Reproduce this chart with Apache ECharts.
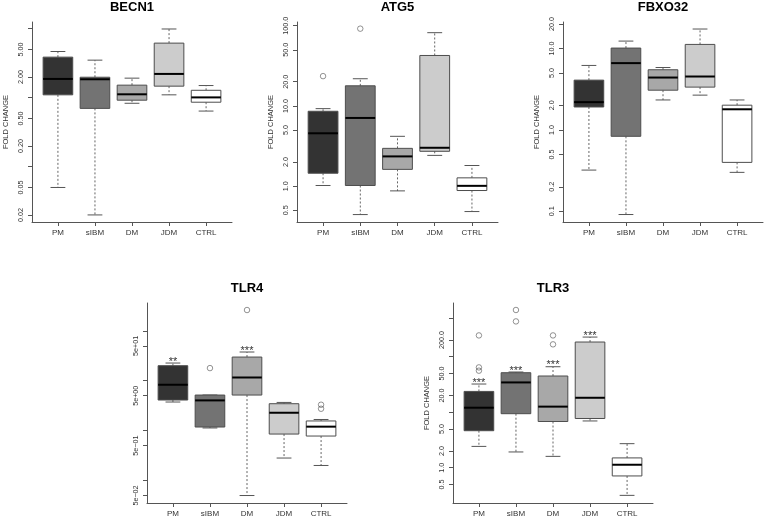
<!DOCTYPE html>
<html>
<head>
<meta charset="utf-8">
<script src="https://cdn.jsdelivr.net/npm/echarts@6/dist/echarts.min.js"></script>
<style>
html,body{margin:0;padding:0;background:#fff;}
#chart{width:765px;height:519px;}
</style>
</head>
<body>
<div id="chart"></div>
<script>
// ---------- DATA ----------
const categories = ['PM', 'sIBM', 'DM', 'JDM', 'CTRL'];
const genes = ['BECN1', 'ATG5', 'FBXO32', 'TLR4', 'TLR3'];

// [lower whisker, Q1, median, Q3, upper whisker] per category (fold change)
const becn1Stats = [
  [0.05, 1.10, 1.87, 3.87, 4.67],
  [0.02, 0.70, 1.85, 1.98, 3.50],
  [0.83, 0.92, 1.12, 1.52, 1.92],
  [1.10, 1.47, 2.21, 6.18, 9.90],
  [0.64, 0.86, 1.01, 1.28, 1.50]
];
const atg5Stats = [
  [1.02, 1.45, 4.56, 8.58, 9.25],
  [0.443, 1.02, 7.08, 17.8, 21.8],
  [0.874, 1.62, 2.35, 2.96, 4.18],
  [2.42, 2.72, 3.01, 42.5, 81.7],
  [0.483, 0.883, 1.01, 1.27, 1.81]
];
const fbxo32Stats = [
  [0.321, 1.91, 2.19, 4.08, 6.18],
  [0.0914, 0.834, 6.6, 10.1, 12.3],
  [2.33, 3.07, 4.39, 5.47, 5.83],
  [2.67, 3.35, 4.52, 11.2, 17.3],
  [0.301, 0.399, 1.79, 2.01, 2.33]
];
const tlr4Stats = [
  [3.74, 4.10, 8.3, 20.0, 22.6],
  [1.13, 1.18, 4.03, 5.16, 5.16],
  [0.050, 5.16, 11.6, 29.8, 37.6],
  [0.282, 0.853, 2.28, 3.46, 3.67],
  [0.200, 0.778, 1.20, 1.56, 1.67]
];
const tlr3Stats = [
  [2.42, 4.64, 12.05, 23.7, 32.2],
  [1.92, 9.4, 34.4, 51.5, 53.0],
  [1.60, 6.8, 12.6, 44.9, 66.0],
  [6.95, 7.7, 18.2, 184, 226],
  [0.317, 0.71, 1.13, 1.50, 2.71]
];

// outliers: [category index (1-based), value]
const becn1Outliers = [];
const atg5Outliers = [[1, 23.5], [2, 91.7]];
const fbxo32Outliers = [];
const tlr4Outliers = [[2, 17.9], [3, 261], [5, 3.30], [5, 2.74]];
const tlr3Outliers = [[1, 242], [1, 64.2], [1, 56], [2, 695], [2, 433], [3, 242], [3, 167]];

// significance marks per category
const becn1Stars = ['', '', '', '', ''];
const atg5Stars = ['', '', '', '', ''];
const fbxo32Stars = ['', '', '', '', ''];
const tlr4Stars = ['**', '', '***', '', ''];
const tlr3Stars = ['***', '***', '***', '***', ''];

// axis ranges (fold change) and ticks / tick labels
const becn1Range = [0.0158, 12.5];
const atg5Range = [0.358, 111];
const fbxo32Range = [0.074, 21.1];
const tlr4Range = [0.0354, 361];
const tlr3Range = [0.231, 929];

const becn1Ticks = [0.02, 0.05, 0.1, 0.2, 0.5, 1, 2, 5, 10];
const becn1Labels = [[0.02, '0.02'], [0.05, '0.05'], [0.2, '0.20'], [0.5, '0.50'], [2, '2.00'], [5, '5.00']];
const atg5Ticks = [0.5, 1, 2, 5, 10, 20, 50, 100];
const atg5Labels = [[0.5, '0.5'], [1, '1.0'], [2, '2.0'], [5, '5.0'], [10, '10.0'], [20, '20.0'], [50, '50.0'], [100, '100.0']];
const fbxo32Ticks = [0.1, 0.2, 0.5, 1, 2, 5, 10, 20];
const fbxo32Labels = [[0.1, '0.1'], [0.2, '0.2'], [0.5, '0.5'], [1, '1.0'], [2, '2.0'], [5, '5.0'], [10, '10.0'], [20, '20.0']];
const tlr4Ticks = [0.05, 0.1, 0.5, 1, 5, 10, 50, 100];
const tlr4Labels = [[0.05, '5e\u221202'], [0.5, '5e\u221201'], [5, '5e+00'], [50, '5e+01']];
const tlr3Ticks = [0.5, 1, 2, 5, 10, 20, 50, 100, 200, 500];
const tlr3Labels = [[0.5, '0.5'], [1, '1.0'], [2, '2.0'], [5, '5.0'], [20, '20.0'], [50, '50.0'], [200, '200.0']];

// ---------- STYLE / LAYOUT ----------
const FONT = '"Liberation Sans", Arial, Helvetica, sans-serif';
const boxColors = ['#333333', '#737373', '#a8a8a8', '#cccccc', '#ffffff'];
const panels = [
  { name: 'BECN1', stats: becn1Stats, out: becn1Outliers, stars: becn1Stars, range: becn1Range, ticks: becn1Ticks, labels: becn1Labels,
    grid: { left: 32, top: 22, width: 200, height: 200 }, yName: 'FOLD CHANGE' },
  { name: 'ATG5', stats: atg5Stats, out: atg5Outliers, stars: atg5Stars, range: atg5Range, ticks: atg5Ticks, labels: atg5Labels,
    grid: { left: 297, top: 22, width: 201, height: 200 }, yName: 'FOLD CHANGE' },
  { name: 'FBXO32', stats: fbxo32Stats, out: fbxo32Outliers, stars: fbxo32Stars, range: fbxo32Range, ticks: fbxo32Ticks, labels: fbxo32Labels,
    grid: { left: 563, top: 22, width: 200, height: 200 }, yName: 'FOLD CHANGE' },
  { name: 'TLR4', stats: tlr4Stats, out: tlr4Outliers, stars: tlr4Stars, range: tlr4Range, ticks: tlr4Ticks, labels: tlr4Labels,
    grid: { left: 147, top: 303, width: 200, height: 200 }, yName: '' },
  { name: 'TLR3', stats: tlr3Stats, out: tlr3Outliers, stars: tlr3Stars, range: tlr3Range, ticks: tlr3Ticks, labels: tlr3Labels,
    grid: { left: 453, top: 303, width: 200, height: 200 }, yName: 'FOLD CHANGE' }
];

const L = Math.log10;
const grids = [], xAxes = [], yAxes = [], series = [], graphics = [];

panels.forEach((p, i) => {
  grids.push(Object.assign({ containLabel: false, outerBoundsMode: 'none' }, p.grid));
  const xs = categories.map((c, k) => k + 1);
  xAxes.push({
    type: 'value', gridIndex: i, min: 0.3, max: 5.7,
    axisLine: { show: true, onZero: false, lineStyle: { color: '#555', width: 1 } },
    axisTick: { show: true, customValues: xs, length: 4, lineStyle: { color: '#555', width: 1 } },
    axisLabel: { show: true, customValues: xs, margin: 7, fontSize: 8, color: '#333', fontFamily: FONT,
      formatter: v => categories[Math.round(v) - 1] || '' },
    splitLine: { show: false }
  });
  const labelMap = p.labels.map(l => [L(l[0]), l[1]]);
  yAxes.push({
    type: 'value', gridIndex: i, min: L(p.range[0]), max: L(p.range[1]),
    name: p.yName, nameLocation: 'middle', nameRotate: 90, nameGap: 22,
    nameTextStyle: { fontSize: 7.5, color: '#333', fontFamily: FONT },
    axisLine: { show: true, onZero: false, lineStyle: { color: '#555', width: 1 } },
    axisTick: { show: true, customValues: p.ticks.map(L), length: 4, lineStyle: { color: '#555', width: 1 } },
    axisLabel: { show: true, customValues: labelMap.map(l => l[0]), rotate: 90, margin: 7.5, fontSize: 7.2, color: '#333', fontFamily: FONT,
      formatter: v => { const m = labelMap.find(l => Math.abs(l[0] - v) < 1e-6); return m ? m[1] : ''; } },
    splitLine: { show: false }
  });

  const boxData = p.stats.map((s, k) => [k + 1].concat(s.map(L)));
  series.push({
    type: 'custom', xAxisIndex: i, yAxisIndex: i, silent: true,
    encode: { x: 0, y: [1, 2, 3, 4, 5] },
    data: boxData,
    renderItem: (params, api) => {
      const x = api.value(0);
      const lo = api.coord([x, api.value(1)]);
      const q1 = api.coord([x, api.value(2)]);
      const md = api.coord([x, api.value(3)]);
      const q3 = api.coord([x, api.value(4)]);
      const hi = api.coord([x, api.value(5)]);
      const half = api.size([0.8, 0])[0] / 2;
      const cap = half / 2;
      const cx = lo[0];
      const whisk = { stroke: '#555', lineWidth: 0.9, lineDash: [2, 2] };
      const capS = { stroke: '#555', lineWidth: 1 };
      return {
        type: 'group', children: [
          { type: 'line', shape: { x1: cx, y1: q3[1], x2: cx, y2: hi[1] }, style: whisk },
          { type: 'line', shape: { x1: cx, y1: q1[1], x2: cx, y2: lo[1] }, style: whisk },
          { type: 'line', shape: { x1: cx - cap, y1: hi[1], x2: cx + cap, y2: hi[1] }, style: capS },
          { type: 'line', shape: { x1: cx - cap, y1: lo[1], x2: cx + cap, y2: lo[1] }, style: capS },
          { type: 'rect', shape: { x: cx - half, y: q3[1], width: 2 * half, height: q1[1] - q3[1] },
            style: { fill: boxColors[params.dataIndex], stroke: '#4d4d4d', lineWidth: 1 } },
          { type: 'line', shape: { x1: cx - half, y1: md[1], x2: cx + half, y2: md[1] }, style: { stroke: '#000', lineWidth: 2 } }
        ]
      };
    }
  });

  if (p.out.length) {
    series.push({
      type: 'scatter', xAxisIndex: i, yAxisIndex: i, silent: true,
      symbol: 'circle', symbolSize: 5.5,
      itemStyle: { color: 'rgba(0,0,0,0)', borderColor: '#555', borderWidth: 0.8 },
      data: p.out.map(o => [o[0], L(o[1])])
    });
  }

  const starData = [], starText = [];
  p.stars.forEach((s, k) => { if (s) { starData.push([k + 1, L(p.stats[k][4])]); starText.push(s); } });
  if (starData.length) {
    series.push({
      type: 'custom', xAxisIndex: i, yAxisIndex: i, silent: true,
      encode: { x: 0, y: 1 },
      data: starData,
      renderItem: (params, api) => {
        const pt = api.coord([api.value(0), api.value(1)]);
        return { type: 'text', x: pt[0], y: pt[1] - 1.5,
          style: { text: starText[params.dataIndex], textAlign: 'center', textVerticalAlign: 'middle',
            fontSize: 11, fill: '#333', fontFamily: FONT } };
      }
    });
  }

  graphics.push({
    type: 'text', x: p.grid.left + p.grid.width / 2, y: p.grid.top - 14.5,
    style: { text: p.name, textAlign: 'center', textVerticalAlign: 'middle', fontSize: 13, fontWeight: 'bold', fill: '#000', fontFamily: FONT }
  });
});

const chart = echarts.init(document.getElementById('chart'), null, { renderer: 'canvas' });
chart.setOption({
  animation: false,
  backgroundColor: '#fff',
  grid: grids,
  xAxis: xAxes,
  yAxis: yAxes,
  series: series,
  graphic: graphics
});
</script>
</body>
</html>
